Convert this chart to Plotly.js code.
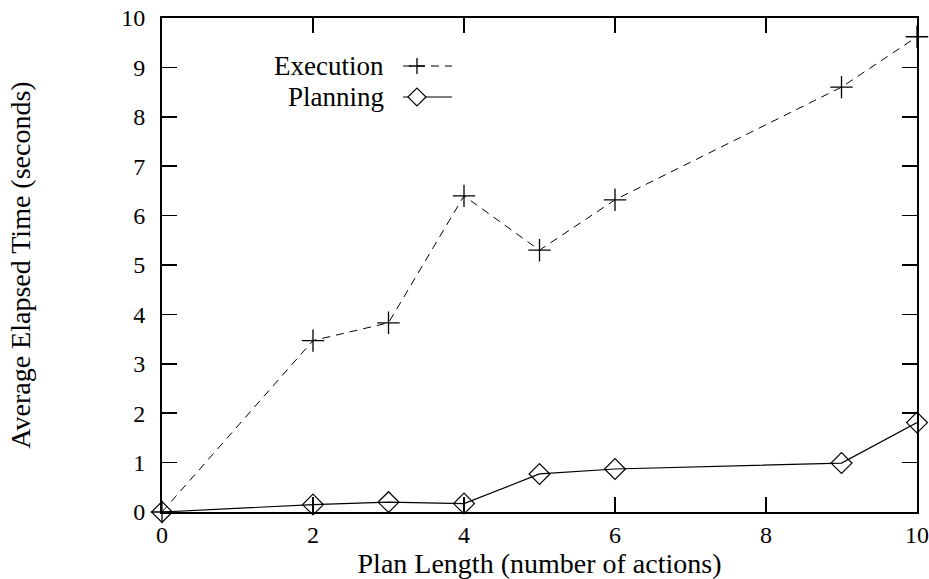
<!DOCTYPE html>
<html>
<head>
<meta charset="utf-8">
<script src="https://cdn.plot.ly/plotly-3.0.1.min.js"></script>
<style>html,body{margin:0;padding:0;background:#fff;}#chart{width:929px;height:579px;}</style>
</head>
<body>
<div id="chart"></div>
<script>
const planLength = [0, 2, 3, 4, 5, 6, 9, 10];
const executionTime = [0, 3.47, 3.83, 6.40, 5.30, 6.32, 8.60, 9.62];
const planningTime = [0, 0.15, 0.20, 0.17, 0.77, 0.87, 0.99, 1.81];
const seriesNames = ['Execution', 'Planning'];
const xTicks = [0, 2, 4, 6, 8, 10];
const yTicks = [0, 1, 2, 3, 4, 5, 6, 7, 8, 9, 10];

const FONT = 'Liberation Serif, Times New Roman, serif';
const FS = 28;
const TFS = 24;
const LFS = 27;

const traces = [
  {
    x: planLength, y: executionTime, name: seriesNames[0], mode: 'lines+markers',
    line: {color: '#000', width: 1, dash: '8px,6px'},
    marker: {symbol: 'cross-thin-open', size: 16, color: '#000', line: {color: '#000', width: 1.3}},
    cliponaxis: false
  },
  {
    x: planLength, y: planningTime, name: seriesNames[1], mode: 'lines+markers',
    line: {color: '#000', width: 1.2},
    marker: {symbol: 'diamond-open', size: 16, color: '#000', line: {color: '#000', width: 1.2}},
    cliponaxis: false
  }
];

const axisCommon = {
  showgrid: false, zeroline: false, showline: true, linecolor: '#000', linewidth: 2,
  mirror: 'allticks', ticks: 'inside', ticklen: 15, tickwidth: 1.5, tickcolor: '#000',
  tickfont: {family: FONT, size: TFS, color: '#000'}, ticklabeloverflow: 'allow'
};

const legY1 = 0.9028, legY2 = 0.8401;

const layout = {
  width: 929, height: 579,
  margin: {l: 162, r: 12, t: 18, b: 67},
  paper_bgcolor: '#fff', plot_bgcolor: '#fff',
  showlegend: false,
  font: {family: FONT, size: FS, color: '#000'},
  xaxis: Object.assign({}, axisCommon, {
    range: [0, 10], tickvals: xTicks, ticktext: xTicks.map(String),
    title: {text: 'Plan Length (number of actions)', font: {family: FONT, size: FS, color: '#000'}, standoff: 0}
  }),
  yaxis: Object.assign({}, axisCommon, {
    range: [0, 10], tickvals: yTicks, ticktext: yTicks.map(String), ticklabelstandoff: 10,
    title: {text: 'Average Elapsed Time (seconds)', font: {family: FONT, size: FS, color: '#000'}, standoff: 82}
  }),
  annotations: [
    {xref: 'paper', yref: 'paper', x: 0.2954, y: legY1, xanchor: 'right', yanchor: 'middle', borderpad: 0,
     text: seriesNames[0], showarrow: false, font: {family: FONT, size: LFS, color: '#000'}},
    {xref: 'paper', yref: 'paper', x: 0.2954, y: legY2, xanchor: 'right', yanchor: 'middle', borderpad: 0,
     text: seriesNames[1], showarrow: false, font: {family: FONT, size: LFS, color: '#000'}}
  ],
  shapes: [
    {type: 'line', xref: 'paper', yref: 'paper', x0: 0.3192, x1: 0.3841, y0: legY1, y1: legY1,
     line: {color: '#000', width: 1, dash: '8px,6px'}},
    {type: 'path', xref: 'paper', yref: 'paper', xsizemode: 'pixel', ysizemode: 'pixel',
     xanchor: 0.3377, yanchor: legY1, path: 'M-8,0 L8,0 M0,-8 L0,8', line: {color: '#000', width: 1.3}},
    {type: 'line', xref: 'paper', yref: 'paper', x0: 0.3192, x1: 0.3841, y0: legY2, y1: legY2,
     line: {color: '#000', width: 1.2}},
    {type: 'path', xref: 'paper', yref: 'paper', xsizemode: 'pixel', ysizemode: 'pixel',
     xanchor: 0.3377, yanchor: legY2, path: 'M-9,0 L0,9 L9,0 L0,-9 Z', fillcolor: '#fff', line: {color: '#000', width: 1.2}}
  ]
};

Plotly.newPlot('chart', traces, layout, {displayModeBar: false, staticPlot: true});
</script>
</body>
</html>
